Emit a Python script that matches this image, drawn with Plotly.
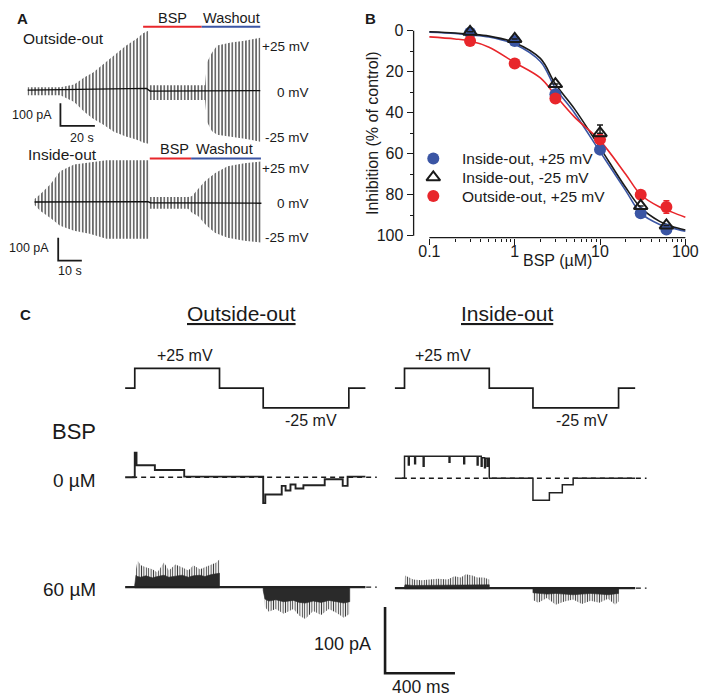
import plotly.graph_objects as go

W, H = 709, 699
FONT = "Arial, 'Liberation Sans', Helvetica, sans-serif"
INK = "#1a1a1a"
BLUE = "#3a55a4"
RED = "#e8262b"

# ---------------- Panel B: concentration-response ----------------
BSP_CONC = [0.3, 1, 3, 10, 30, 60]
IO_POS = [1, 5, 31, 58, 89, 97]          # Inside-out, +25 mV
IO_NEG = [0.5, 4, 26, 50, 85.5, 95]      # Inside-out, -25 mV
OO_POS = [5, 16, 33, 53, 80, 86]         # Outside-out, +25 mV
IO_NEG_ERR = [0, 0, 0, 4, 0, 0]
OO_POS_ERR = [0, 0, 0, 0, 1.5, 3]

FIT_CONC = [0.1, 0.2, 0.3, 0.5, 1, 2, 3, 5, 10, 20, 30, 50, 70, 100]
FIT_IO_POS = [0.7, 1.3, 2, 3, 6.6, 15, 28, 40, 59, 78, 89, 94.5, 96.3, 97.8]
FIT_IO_NEG = [0.5, 1.1, 1.7, 2.6, 5.8, 13.5, 26, 38, 57, 76.5, 86.3, 93, 95.5, 97.2]
FIT_OO_POS = [3, 4, 5, 8, 15.5, 23, 31.5, 42, 53.6, 70, 80, 86, 88.5, 91]

SERIES_NAMES = ["Inside-out, +25 mV", "Inside-out, -25 mV", "Outside-out, +25 mV"]
B_YTICKS = [0, 20, 40, 60, 80, 100]
B_XTICKS = [0.1, 1, 10, 100]
B_XTICKTEXT = ["0.1", "1", "10", "100"]

# ---------------- Panel A: macroscopic current envelopes ----------------
A_OUT_T = [0, 19, 27, 33, 38, 44, 50, 57, 63, 67, 70, 70.5, 103, 104, 107, 110, 118, 126, 135]   # s
A_OUT_UP = [13, 13, 25, 57, 78, 115, 152, 195, 225, 250, 261, 22, 22, 122, 165, 196, 209, 217, 230]  # pA
A_OUT_DN = [-22, -22, -52, -96, -126, -152, -183, -204, -217, -230, -235, -43, -43, -139, -180, -196, -205, -213, -226]
A_OUT_BASE_T = [0, 45, 60, 69, 71, 135]
A_OUT_BASE_I = [0, 4, 8, 8, -4, -2]
A_OUT_BSP = [67, 101]
A_OUT_WASH = [101, 135]

A_IN_T = [0, 2.5, 6.7, 10.8, 16.7, 23.3, 30.4, 48.3, 48.8, 65, 66.7, 69.2, 72.1, 76.3, 81.7, 88.8, 95.8]
A_IN_UP = [13, 35, 78, 135, 165, 174, 183, 183, 22, 22, 26, 57, 91, 126, 157, 170, 178]
A_IN_DN = [-13, -39, -70, -104, -126, -139, -161, -161, -30, -30, -48, -61, -96, -135, -157, -170, -178]
A_IN_BASE_T = [0, 48, 49, 96]
A_IN_BASE_I = [0, 2, -3, -5]
A_IN_BSP = [48.75, 66.25]
A_IN_WASH = [66.25, 95.8]

# ---------------- Panel C: single-channel records ----------------
PROTO_T = [0, 55, 540, 790, 1280, 1375]     # ms
PROTO_V = [0, 25, 0, -25, 0, 0]             # mV

C_OUT0_T = [0, 55, 65, 170, 338, 790, 802, 896, 918, 946, 975, 1020, 1142, 1245, 1273, 1375]
C_OUT0_I = [0, 37, 18, 11, 1, -39, -26, -13, -20, -11, -17, -12, -3, -13, 1, 1]

C_IN0_T = [0, 55, 77, 82, 113, 118, 162, 167, 310, 315, 394, 399, 471, 476, 494, 499, 513, 518, 528, 534, 540, 790, 884, 958, 1020, 1375]
C_IN0_I = [0, 33, 20, 33, 22, 33, 18, 33, 24, 33, 22, 33, 20, 33, 18, 31, 16, 30, 18, 30, 0, -33, -22, -10, 0, 0]

C_OUT60_UP_T = [55, 62, 71, 90, 118, 156, 184, 222, 250, 287, 325, 362, 390, 428, 456, 494, 522, 540]
C_OUT60_UP_PEAK = [3, 27, 40, 33, 30, 27, 22, 37, 25, 34, 30, 25, 33, 27, 30, 34, 37, 42]
C_OUT60_UP_BULK = [3, 18, 16, 15, 17, 14, 16, 18, 15, 17, 18, 15, 17, 18, 16, 19, 20, 21]
C_OUT60_DN_T = [790, 800, 822, 862, 907, 963, 997, 1031, 1076, 1121, 1166, 1211, 1251, 1285]
C_OUT60_DN_PEAK = [-5, -30, -37, -33, -40, -33, -43, -48, -36, -42, -33, -39, -46, -40]
C_OUT60_DN_BULK = [-5, -18, -21, -19, -22, -20, -23, -24, -21, -23, -20, -22, -24, -22]

C_IN60_UP_T = [55, 58, 105, 152, 199, 246, 302, 340, 377, 406, 443, 471, 509, 540]
C_IN60_UP_PEAK = [2, 19, 13, 12, 13, 14, 13, 18, 16, 21, 19, 16, 16, 13]
C_IN60_UP_BULK = [2, 5, 4, 4, 5, 4, 5, 5, 4, 5, 5, 4, 5, 5]
C_IN60_DN_T = [790, 820, 870, 920, 970, 1020, 1070, 1120, 1170, 1220, 1260, 1280]
C_IN60_DN_PEAK = [-18, -22, -15, -25, -20, -17, -24, -19, -22, -16, -25, -20]
C_IN60_DN_BULK = [-7, -8, -9, -8, -9, -10, -9, -8, -9, -10, -9, -8]

BASELINE_SPAN = [40, 1440]
SCALE_A_OUT = (100, 20)   # pA, s
SCALE_A_IN = (100, 10)    # pA, s
SCALE_C = (100, 400)      # pA, ms

fig = go.Figure()


def dom_x(a, b):
    return [a / W, b / W]


def dom_y(top, bottom):
    return [1 - bottom / H, 1 - top / H]


def add_axes(n, xpx, ypx, ox, oy, sx, sy):
    xa = dict(domain=dom_x(*xpx), range=[(xpx[0] - ox) / sx, (xpx[1] - ox) / sx],
              visible=False, fixedrange=True, anchor=f"y{n}")
    ya = dict(domain=dom_y(*ypx), range=[(oy - ypx[1]) / sy, (oy - ypx[0]) / sy],
              visible=False, fixedrange=True, anchor=f"x{n}")
    fig.update_layout({f"xaxis{n}": xa, f"yaxis{n}": ya})


def band(t, top, bottom):
    xs = list(t) + list(t)[::-1] + [t[0]]
    ys = list(top) + list(bottom)[::-1] + [top[0]]
    return xs, ys


def add_line(n, x, y, color=INK, width=1.5, shape="linear", dash="solid"):
    fig.add_trace(go.Scatter(x=x, y=y, mode="lines", xaxis=f"x{n}", yaxis=f"y{n}",
                             line=dict(color=color, width=width, shape=shape, dash=dash),
                             showlegend=False, hoverinfo="skip"))


def add_striped(n, t, top, bottom, fg="#505050", size=3.5, solidity=0.5):
    xs, ys = band(t, top, bottom)
    fig.add_trace(go.Scatter(x=xs, y=ys, mode="lines", fill="toself", xaxis=f"x{n}", yaxis=f"y{n}",
                             line=dict(width=0, color="rgba(0,0,0,0)"),
                             fillcolor="rgba(0,0,0,0)",
                             fillpattern=dict(shape="|", size=size, solidity=solidity, fgcolor=fg,
                                              fillmode="replace"),
                             showlegend=False, hoverinfo="skip"))


def add_solid(n, t, top, bottom, color="#2a2a2a"):
    xs, ys = band(t, top, bottom)
    fig.add_trace(go.Scatter(x=xs, y=ys, mode="lines", fill="toself", xaxis=f"x{n}", yaxis=f"y{n}",
                             line=dict(width=0.6, color=color), fillcolor=color,
                             showlegend=False, hoverinfo="skip"))


# ======================= Panel B =======================
for xs, ys, col in [(FIT_CONC, FIT_IO_POS, BLUE), (FIT_CONC, FIT_IO_NEG, INK), (FIT_CONC, FIT_OO_POS, RED)]:
    fig.add_trace(go.Scatter(x=xs, y=ys, mode="lines", line=dict(color=col, width=1.6, shape="spline", smoothing=1.0),
                             showlegend=False, hoverinfo="skip"))

MK_BLUE = dict(symbol="circle", size=12, color=BLUE, line=dict(width=0))
MK_RED = dict(symbol="circle", size=12, color=RED, line=dict(width=0))
MK_TRI = dict(symbol="triangle-up-open", size=12, color=INK, line=dict(width=2, color=INK))

fig.add_trace(go.Scatter(x=BSP_CONC, y=IO_POS, mode="markers", name=SERIES_NAMES[0], marker=MK_BLUE,
                         showlegend=False))
fig.add_trace(go.Scatter(x=BSP_CONC, y=OO_POS, mode="markers", name=SERIES_NAMES[2], showlegend=False,
                         error_y=dict(type="data", array=OO_POS_ERR, arrayminus=OO_POS_ERR, color=RED,
                                      thickness=1.5, width=3),
                         marker=MK_RED))
fig.add_trace(go.Scatter(x=BSP_CONC, y=IO_NEG, mode="markers", name=SERIES_NAMES[1], showlegend=False,
                         error_y=dict(type="data", symmetric=False, array=[0] * len(IO_NEG_ERR),
                                      arrayminus=IO_NEG_ERR, color=INK, thickness=1.5, width=3),
                         marker=MK_TRI))

# pixel geometry of panel B
BX_LEFT, BX_RIGHT = 412, 690
BX_01, BX_PER_DEC = 428, 86.67
BY_TOP, BY_BOTTOM = 10, 232
BY_0, BY_PER = 23, 2.07
fig.update_layout(
    xaxis=dict(type="log", domain=dom_x(BX_LEFT, BX_RIGHT),
               range=[-1 - (BX_01 - BX_LEFT) / BX_PER_DEC, 2 + (BX_RIGHT - BX_01 - 3 * BX_PER_DEC) / BX_PER_DEC],
               tickmode="array", tickvals=B_XTICKS, ticktext=B_XTICKTEXT, ticks="outside", ticklen=6,
               tickwidth=1.3, tickcolor=INK, showline=False, showgrid=False, zeroline=False,
               ticklabelstandoff=-7,
               tickfont=dict(size=16, color=INK, family=FONT), anchor="y", fixedrange=True,
               minor=dict(tickmode="array",
                          tickvals=[0.2, 0.3, 0.4, 0.5, 0.6, 0.7, 0.8, 0.9, 2, 3, 4, 5, 6, 7, 8, 9,
                                    20, 30, 40, 50, 60, 70, 80, 90],
                          ticks="outside", ticklen=3, tickwidth=1, tickcolor=INK, showgrid=False)),
    yaxis=dict(domain=dom_y(BY_TOP, BY_BOTTOM),
               range=[(BY_BOTTOM - BY_0) / BY_PER, (BY_TOP - BY_0) / BY_PER],
               tickmode="array", tickvals=B_YTICKS, ticks="outside", ticklen=6, tickwidth=1.3, tickcolor=INK,
               showline=False, showgrid=False, zeroline=False, anchor="x", fixedrange=True,
               tickfont=dict(size=16, color=INK, family=FONT),
               minor=dict(tickmode="array", tickvals=[10, 30, 50, 70, 90], ticks="outside", ticklen=3,
                          tickwidth=1, tickcolor=INK, showgrid=False)),
)
fig.add_shape(type="line", xref="x domain", yref="y", x0=0, x1=0, y0=B_YTICKS[0], y1=B_YTICKS[-1],
              line=dict(color=INK, width=1.3))
fig.add_shape(type="line", xref="x", yref="y domain", x0=B_XTICKS[0], x1=B_XTICKS[-1], y0=0, y1=0,
              line=dict(color=INK, width=1.3))

# legend (drawn in its own small axis: one row per series, 19 px per row)
add_axes(11, (420, 640), (140, 200), 432, 152, 1, -19)
for row, mk in enumerate([MK_BLUE, MK_TRI, MK_RED]):
    fig.add_trace(go.Scatter(x=[0], y=[row], mode="markers", marker=mk, xaxis="x11", yaxis="y11",
                             showlegend=False, hoverinfo="skip"))

# ======================= Panel A =======================
add_axes(2, (12, 262), (15, 145), 20, 83, 1.75, 0.23)
add_striped(2, A_OUT_T, A_OUT_UP, A_OUT_DN, fg="#5a5a5a", size=3.4, solidity=0.45)
add_line(2, A_OUT_BASE_T, A_OUT_BASE_I, color="#111111", width=1.4)
add_line(2, A_OUT_BSP, [278, 278], color=RED, width=2)
add_line(2, A_OUT_WASH, [278, 278], color=BLUE, width=2)
sa_pa, sa_s = SCALE_A_OUT
add_line(2, [19, 19, 19 + sa_s], [-157 + sa_pa, -157, -157], color=INK, width=1.8)

add_axes(3, (12, 262), (145, 268), 27, 196, 2.4, 0.23)
add_striped(3, A_IN_T, A_IN_UP, A_IN_DN, fg="#5a5a5a", size=3.4, solidity=0.45)
add_line(3, A_IN_BASE_T, A_IN_BASE_I, color="#111111", width=1.4)
add_line(3, A_IN_BSP, [191, 191], color=RED, width=2)
add_line(3, A_IN_WASH, [191, 191], color=BLUE, width=2)
sb_pa, sb_s = SCALE_A_IN
add_line(3, [10, 10, 10 + sb_s], [-257 + sb_pa, -257, -257], color=INK, width=1.8)

# ======================= Panel C =======================
SX = 0.1775   # px per ms
SV = 0.8      # px per mV
SI = 0.67     # px per pA
add_axes(4, (110, 372), (355, 412), 119, 384, SX, SV)
add_axes(5, (385, 650), (355, 412), 393, 384, SX, SV)
add_line(4, PROTO_T, PROTO_V, width=1.7, shape="hv")
add_line(5, PROTO_T, PROTO_V, width=1.7, shape="hv")

add_axes(6, (110, 380), (440, 508), 119, 474, SX, SI)
add_axes(7, (385, 655), (440, 508), 393, 475, SX, SI)
add_line(6, BASELINE_SPAN, [0, 0], width=1.3, dash="5px,4px")
add_line(7, BASELINE_SPAN, [0, 0], width=1.3, dash="5px,4px")
add_line(6, C_OUT0_T, C_OUT0_I, color="#222222", width=1.9, shape="hv")
add_line(7, C_IN0_T, C_IN0_I, color="#222222", width=1.5, shape="hv")

add_axes(8, (110, 380), (545, 625), 119, 585, SX, SI)
add_axes(9, (385, 655), (545, 625), 393, 586, SX, SI)
add_line(8, BASELINE_SPAN, [0, 0], width=1.3, dash="5px,4px")
add_line(9, BASELINE_SPAN, [0, 0], width=1.3, dash="5px,4px")
for n, ut, up, ub, dt, dp, db in [
    (8, C_OUT60_UP_T, C_OUT60_UP_PEAK, C_OUT60_UP_BULK, C_OUT60_DN_T, C_OUT60_DN_PEAK, C_OUT60_DN_BULK),
    (9, C_IN60_UP_T, C_IN60_UP_PEAK, C_IN60_UP_BULK, C_IN60_DN_T, C_IN60_DN_PEAK, C_IN60_DN_BULK),
]:
    add_striped(n, ut, up, [-1] * len(ut), fg="#3a3a3a", size=2.4, solidity=0.4)
    add_striped(n, dt, [1] * len(dt), dp, fg="#3a3a3a", size=2.4, solidity=0.4)
    add_solid(n, ut, ub, [-1] * len(ut))
    add_solid(n, dt, [1] * len(dt), db)
    add_line(n, [PROTO_T[0], PROTO_T[-1]], [0, 0], color="#222222", width=2.2)

add_axes(10, (370, 470), (598, 680), 383, 672, SX, SI)
sc_pa, sc_ms = SCALE_C
add_line(10, [0, 0, sc_ms], [sc_pa, 0, 0], color=INK, width=2.6)

# ======================= Text =======================
ann = []


def txt(x, y, s, size, anchor="center", bold=False, angle=0):
    ann.append(dict(x=x / W, y=1 - y / H, xref="paper", yref="paper", text=f"<b>{s}</b>" if bold else s,
                    showarrow=False, xanchor=anchor, yanchor="middle", textangle=angle,
                    font=dict(family=FONT, size=size, color=INK)))


for row, name in enumerate(SERIES_NAMES):
    ann.append(dict(x=27, y=row, xref="x11", yref="y11", text=name, showarrow=False,
                    xanchor="left", yanchor="middle", font=dict(family=FONT, size=15.5, color=INK)))

txt(15, 11, "A", 15, "center", bold=True)
txt(56, 31, "Outside-out", 15.5)
txt(167, 10, "BSP", 14.5)
txt(227, 10, "Washout", 14.5)
txt(308, 39, "+25 mV", 13.5, "right")
txt(308, 85, "0 mV", 13.5, "right")
txt(308, 131, "-25 mV", 13.5, "right")
txt(47, 108, "100 pA", 12.5, "right")
txt(75, 131, "20 s", 12.5)
txt(55, 148, "Inside-out", 15.5)
txt(169, 142, "BSP", 14.5)
txt(220, 142, "Washout", 14.5)
txt(308, 162, "+25 mV", 13.5, "right")
txt(308, 197, "0 mV", 13.5, "right")
txt(308, 232, "-25 mV", 13.5, "right")
txt(44, 242, "100 pA", 12.5, "right")
txt(63, 266, "10 s", 12.5)

txt(368, 11, "B", 15, bold=True)
txt(370, 126, "Inhibition (% of control)", 16, angle=-90)
txt(558, 255, "BSP (µM)", 16)

txt(18, 310, "C", 15, bold=True)
txt(237, 309, "<u>Outside-out</u>", 21)
txt(507, 309, "<u>Inside-out</u>", 21)
txt(180, 351, "+25 mV", 16)
txt(442, 351, "+25 mV", 16)
txt(308, 417, "-25 mV", 16)
txt(583, 417, "-25 mV", 16)
txt(67, 428, "BSP", 22)
txt(91, 477, "0 µM", 19, "right")
txt(91, 587, "60 µM", 19, "right")
txt(371, 642, "100 pA", 18, "right")
txt(420, 686, "400 ms", 17.5)

fig.update_layout(
    width=W, height=H, margin=dict(l=0, r=0, t=0, b=0),
    paper_bgcolor="white", plot_bgcolor="rgba(0,0,0,0)",
    font=dict(family=FONT, color=INK),
    annotations=ann,
    showlegend=False,
)

fig.write_html("out.html")
